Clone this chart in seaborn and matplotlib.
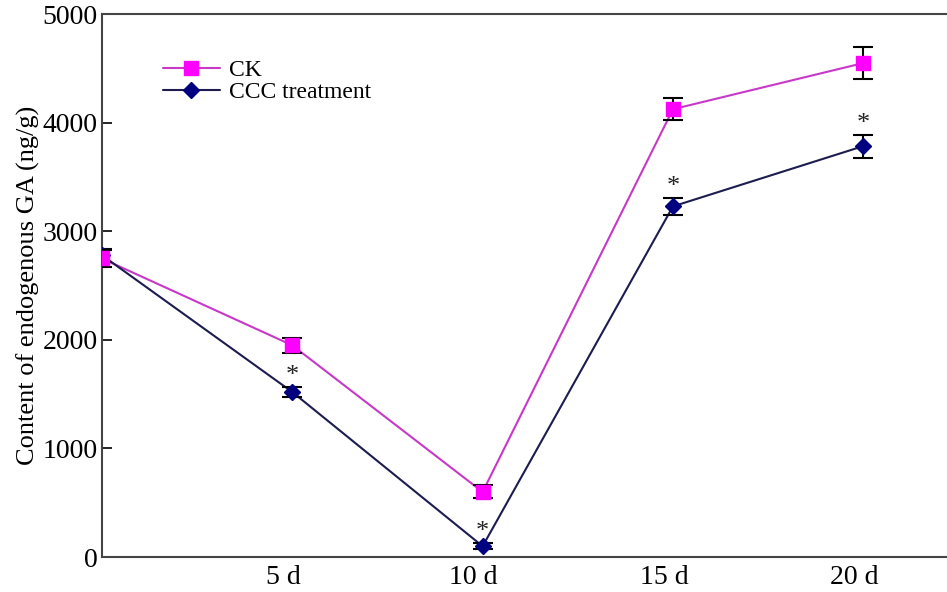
import matplotlib
matplotlib.use("Agg")
import matplotlib.pyplot as plt
import matplotlib.transforms as mtransforms
from matplotlib.lines import Line2D
import numpy as np
import pandas as pd
import seaborn as sns

# data
days = [0, 5, 10, 15, 20]
tick_days = [5, 10, 15, 20]
tick_labels = ["5 d", "10 d", "15 d", "20 d"]
ck_mean = [2750, 1950, 600, 4125, 4550]
ck_err = [80, 70, 60, 100, 150]
ccc_mean = [2780, 1520, 100, 3230, 3785]
ccc_err = [60, 45, 30, 75, 105]
ccc_signif = [False, True, True, True, True]

ck_color = "#ff00ff"
ck_line = "#c838c8"
ccc_color = "#000080"
ccc_line = "#1c1c50"

sns.set_theme(style="white")
plt.rcParams["font.family"] = ["Liberation Serif", "DejaVu Serif"]
plt.rcParams["text.color"] = "black"
plt.rcParams["xtick.color"] = "black"
plt.rcParams["ytick.color"] = "black"
plt.rcParams["axes.labelcolor"] = "black"

df = pd.DataFrame({
    "day": days * 2,
    "value": ck_mean + ccc_mean,
    "group": ["CK"] * len(days) + ["CCC treatment"] * len(days),
})

fig = plt.figure(figsize=(9.47, 5.92), dpi=100)
ax = fig.add_axes([0.1077, 0.059, 0.8923, 0.917])

sns.lineplot(data=df, x="day", y="value", hue="group", style="group",
             hue_order=["CK", "CCC treatment"],
             palette={"CK": ck_line, "CCC treatment": ccc_line},
             markers={"CK": "s", "CCC treatment": "D"}, dashes=False,
             linewidth=1.5, markersize=0, legend=False, ax=ax, zorder=2)

# error bars + markers
ax.errorbar(days, ccc_mean, yerr=ccc_err, fmt="none", ecolor="black",
            elinewidth=1.5, capsize=7, capthick=1.5, zorder=3)
ax.plot(days, ccc_mean, ls="none", marker="D", ms=8, mfc=ccc_color,
        mec=ccc_color, zorder=4)
ax.errorbar(days, ck_mean, yerr=ck_err, fmt="none", ecolor="black",
            elinewidth=1.5, capsize=7, capthick=1.5, zorder=5)
ax.plot(days, ck_mean, ls="none", marker="s", ms=10, mfc=ck_color,
        mec=ck_color, zorder=6)

# significance marks
for d, m, e, s in zip(days, ccc_mean, ccc_err, ccc_signif):
    if s:
        ax.text(d, m + e, "*", ha="center", va="bottom", fontsize=19,
                color="#222222")

ax.set_xlim(0, 22.2)
ax.set_ylim(0, 5000)
ax.set_xticks(tick_days)
ax.set_xticklabels(tick_labels, fontsize=20)
ax.set_yticks([0, 1000, 2000, 3000, 4000, 5000])
ax.set_yticklabels(["0", "1000", "2000", "3000", "4000", "5000"], fontsize=20)
ax.tick_params(axis="x", length=0, pad=6)
ax.tick_params(axis="y", direction="in", length=7, width=1.2, pad=3,
               left=True)
ax.set_xlabel("")
ax.set_ylabel("Content of endogenous GA (ng/g)", fontsize=19, labelpad=2)

# tick labels sit a little left of the points in the reference
shift = mtransforms.ScaledTranslation(-9 / 100, 0, fig.dpi_scale_trans)
for lbl in ax.get_xticklabels():
    lbl.set_transform(lbl.get_transform() + shift)

for side in ["left", "bottom", "top"]:
    ax.spines[side].set_color("#444444")
    ax.spines[side].set_linewidth(1.5)
ax.spines["right"].set_visible(False)

handles = [
    Line2D([], [], color=ck_line, lw=1.5, marker="s", ms=10,
           mfc=ck_color, mec=ck_color),
    Line2D([], [], color=ccc_line, lw=1.5, marker="D", ms=8,
           mfc=ccc_color, mec=ccc_color),
]
ax.legend(handles, ["CK", "CCC treatment"], loc="upper left",
          bbox_to_anchor=(0.047, 0.955), frameon=False, fontsize=17,
          handlelength=2.4, handletextpad=0.4, labelspacing=0.0)

fig.savefig("out.png", dpi=100)
